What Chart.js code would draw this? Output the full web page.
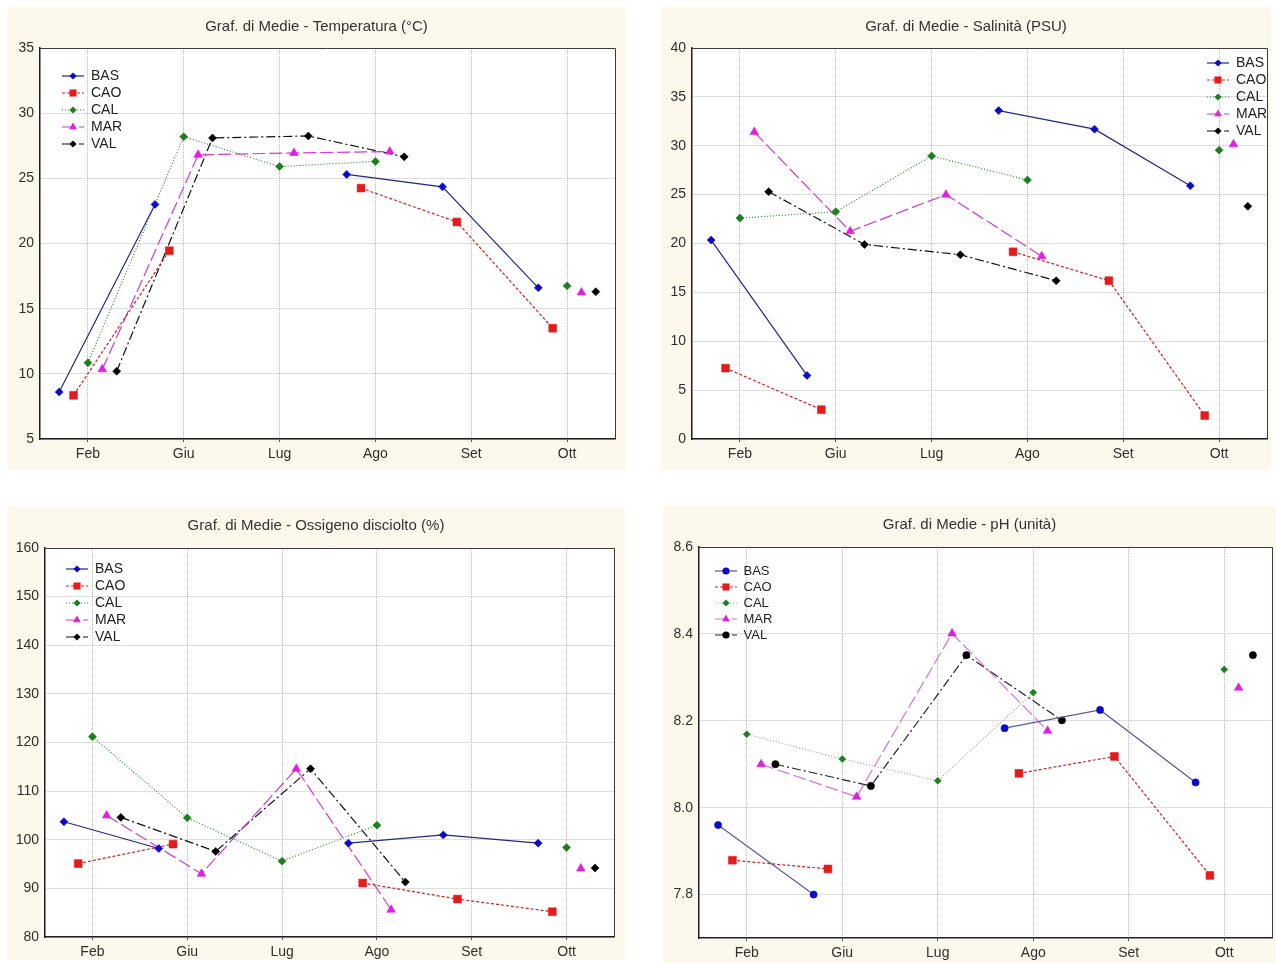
<!DOCTYPE html>
<html>
<head>
<meta charset="utf-8">
<title>Graf. di Medie</title>
<script src="https://cdn.jsdelivr.net/npm/chart.js@4/dist/chart.umd.min.js"></script>
<style>
  html, body { margin: 0; padding: 0; background: #ffffff; }
  body { width: 1276px; height: 963px; position: relative; overflow: hidden; }
  .panel { position: absolute; background: #fdf8ec; }
  .panel canvas { display: block; }
</style>
</head>
<body>
<div class="panel" style="left:7px;top:7px;width:619px;height:463px"><canvas id="c1" width="619" height="463"></canvas></div>
<div class="panel" style="left:661px;top:7px;width:610px;height:463px"><canvas id="c2" width="610" height="463"></canvas></div>
<div class="panel" style="left:7px;top:507px;width:618px;height:453px"><canvas id="c3" width="618" height="453"></canvas></div>
<div class="panel" style="left:663px;top:506px;width:613px;height:457px"><canvas id="c4" width="613" height="457"></canvas></div>

<script>
// ---- categories and stations ----
const months = ['Feb', 'Giu', 'Lug', 'Ago', 'Set', 'Ott'];
const stations = ['BAS', 'CAO', 'CAL', 'MAR', 'VAL'];

// ---- Temperatura (°C) ----
const tempBAS = [8.6, 23.0, null, 25.3, 24.35, 16.6];
const tempCAO = [8.35, 19.45, null, 24.25, 21.65, 13.5];
const tempCAL = [10.85, 28.2, 25.9, 26.3, null, 16.75];
const tempMAR = [10.35, 26.8, 26.95, 27.05, null, 16.25];
const tempVAL = [10.2, 28.1, 28.25, 26.65, null, 16.3];
const tempTicks = [5, 10, 15, 20, 25, 30, 35];

// ---- Salinità (PSU) ----
const salBAS = [20.35, 6.5, null, 33.6, 31.7, 25.9];
const salCAO = [7.25, 3.0, null, 19.15, 16.2, 2.4];
const salCAL = [22.6, 23.25, 28.95, 26.5, null, 29.55];
const salMAR = [31.4, 21.25, 25.0, 18.7, null, 30.15];
const salVAL = [25.3, 19.9, 18.85, 16.2, null, 23.8];
const salTicks = [0, 5, 10, 15, 20, 25, 30, 35, 40];

// ---- Ossigeno disciolto (%) ----
const oxBAS = [103.7, 98.2, null, 99.3, 101.0, 99.3];
const oxCAO = [95.1, 99.1, null, 91.1, 87.8, 85.2];
const oxCAL = [121.2, 104.5, 95.6, 103.0, null, 98.4];
const oxMAR = [105.0, 93.0, 114.6, 85.6, null, 94.1];
const oxVAL = [104.6, 97.6, 114.6, 91.3, null, 94.2];
const oxTicks = [80, 90, 100, 110, 120, 130, 140, 150, 160];

// ---- pH (unità) ----
const phBAS = [7.96, 7.80, null, 8.183, 8.225, 8.058];
const phCAO = [7.879, 7.859, null, 8.079, 8.118, 7.844];
const phCAL = [8.169, 8.112, 8.062, 8.265, null, 8.318];
const phMAR = [8.10, 8.025, 8.401, 8.177, null, 8.276];
const phVAL = [8.10, 8.05, 8.351, 8.201, null, 8.351];
const phTicks = [7.8, 8.0, 8.2, 8.4, 8.6];

// ---- look of each station (dodge offset inside a month, line, marker) ----
const FONT = '"Liberation Sans", Arial, Helvetica, sans-serif';
const TEXT = '#2e2e2e';
const GRID = '#bdbdbd';
const baseStyle = {
  BAS: { off: -0.3,  line: '#262680', marker: '#0a0ac8', dash: [],           point: 'rectRot',  r: 4 },
  CAO: { off: -0.15, line: '#cc2222', marker: '#e41b1b', dash: [3, 2],       point: 'rect',     r: 5.5 },
  CAL: { off: 0,     line: '#2a8a2a', marker: '#1b7f1b', dash: [1, 2],       point: 'rectRot',  r: 4 },
  MAR: { off: 0.15,  line: '#d23ad2', marker: '#e020e0', dash: [13, 4],      point: 'triangle', r: 5 },
  VAL: { off: 0.3,   line: '#111111', marker: '#000000', dash: [9, 3, 2, 3], point: 'rectRot',  r: 4 }
};
const phStyle = {
  BAS: { line: '#5a5a90', point: 'circle', r: 3.6 },
  CAL: { line: '#a0a0a0', r: 3.5 },
  MAR: { line: '#d673d6' },
  VAL: { line: '#222222', point: 'circle', r: 3.6 }
};

function styleFor(name, variant) {
  const s = Object.assign({}, baseStyle[name]);
  if (variant === 'ph' && phStyle[name]) Object.assign(s, phStyle[name]);
  return s;
}

// small marker painter used for the legend swatches
function paintMarker(g, kind, x, y, r) {
  g.beginPath();
  if (kind === 'circle') {
    g.arc(x, y, r, 0, Math.PI * 2);
  } else if (kind === 'rect') {
    const h = r * Math.SQRT1_2;
    g.rect(x - h, y - h, 2 * h, 2 * h);
  } else if (kind === 'triangle') {
    g.moveTo(x, y - r);
    g.lineTo(x + r * 0.866, y + r / 2);
    g.lineTo(x - r * 0.866, y + r / 2);
    g.closePath();
  } else {
    g.moveTo(x, y - r);
    g.lineTo(x + r, y);
    g.lineTo(x, y + r);
    g.lineTo(x - r, y);
    g.closePath();
  }
  g.fill();
}

// legend swatch: short line in the station's dash with its marker in the middle
function legendSwatch(s, w) {
  const c = document.createElement('canvas');
  c.width = w; c.height = 12;
  const g = c.getContext('2d');
  g.strokeStyle = s.line;
  g.lineWidth = 1.2;
  g.setLineDash(s.dash);
  g.beginPath(); g.moveTo(0, 6); g.lineTo(w, 6); g.stroke();
  g.setLineDash([]);
  g.fillStyle = s.marker;
  paintMarker(g, s.point, w / 2, 6, s.point === 'rect' ? 5 : (s.point === 'triangle' ? 4.5 : 3.6));
  return c;
}

function points(values, off) {
  return values.map((v, i) => ({ x: i + off, y: v }));
}

// white plot area and the thin top/right frame
const plotFrame = {
  id: 'plotFrame',
  beforeDraw(chart) {
    const { ctx, chartArea: a } = chart;
    ctx.save();
    ctx.fillStyle = '#ffffff';
    ctx.fillRect(a.left, a.top, a.width, a.height);
    ctx.restore();
  },
  beforeDatasetsDraw(chart) {
    const { ctx, chartArea: a } = chart;
    ctx.save();
    ctx.strokeStyle = '#3a3a3a';
    ctx.lineWidth = 1;
    ctx.beginPath();
    ctx.moveTo(a.left, a.top + 0.5);
    ctx.lineTo(a.right + 0.5, a.top + 0.5);
    ctx.lineTo(a.right + 0.5, a.bottom);
    ctx.stroke();
    ctx.restore();
  }
};

// puts the legend box at a chosen corner inside the plot area
const legendSpot = {
  id: 'legendSpot',
  afterLayout(chart, args, opts) {
    const lg = chart.legend, a = chart.chartArea;
    if (!lg) return;
    lg.left = a.left + opts.dx;
    lg.top = a.top + opts.dy;
    lg.right = a.right;
    lg.bottom = a.bottom;
  }
};

function makeChart(p) {
  const styles = stations.map(n => styleFor(n, p.variant));
  const swatches = styles.map(s => legendSwatch(s, 22));
  const datasets = stations.map((name, k) => {
    const s = styles[k];
    return {
      label: name,
      data: points(p.series[k], s.off),
      borderColor: s.line,
      borderWidth: 1.2,
      borderDash: s.dash,
      pointStyle: s.point,
      pointRadius: s.r,
      pointHoverRadius: s.r,
      pointBackgroundColor: s.marker,
      pointBorderColor: s.marker,
      pointBorderWidth: 0.6,
      spanGaps: false,
      fill: false,
      tension: 0
    };
  });

  return new Chart(document.getElementById(p.canvas), {
    type: 'line',
    data: { datasets },
    plugins: [plotFrame, legendSpot],
    options: {
      responsive: false,
      animation: false,
      events: [],
      layout: { padding: 0, autoPadding: false },
      scales: {
        x: {
          type: 'linear',
          min: -0.5,
          max: 5.5,
          afterBuildTicks: s => { s.ticks = months.map((m, i) => ({ value: i })); },
          afterFit: s => { s.height = p.bottom; },
          ticks: {
            callback: v => months[v] ?? '',
            autoSkip: false, maxRotation: 0,
            padding: 4,
            color: TEXT,
            font: { family: FONT, size: 14 }
          },
          grid: {
            color: GRID, lineWidth: 1,
            drawTicks: true, tickLength: 3,
            tickColor: '#555555', tickWidth: 1, tickBorderDash: []
          },
          border: { display: true, color: '#1e1e1e', width: 1.5, dash: [1, 1] }
        },
        y: {
          type: 'linear',
          min: p.min,
          max: p.max,
          afterBuildTicks: s => { s.ticks = p.ticks.map(v => ({ value: v })); },
          afterFit: s => { s.width = p.left; },
          ticks: {
            callback: v => v.toFixed(p.decimals),
            padding: 6,
            color: TEXT,
            font: { family: FONT, size: 14 }
          },
          grid: { color: GRID, lineWidth: 1, drawTicks: false },
          border: { display: true, color: '#1e1e1e', width: 1.5, dash: [1, 1] }
        },
        yPad: {
          type: 'linear',
          position: 'right',
          display: true,
          afterFit: s => { s.width = p.right; },
          ticks: { display: false },
          grid: { drawOnChartArea: false, drawTicks: false },
          border: { display: false }
        }
      },
      plugins: {
        title: {
          display: true,
          text: p.title,
          color: '#333333',
          font: { family: FONT, size: 15, weight: 'normal' },
          padding: p.titlePad
        },
        legend: {
          display: true,
          position: 'chartArea',
          align: 'start',
          labels: {
            usePointStyle: true,
            pointStyleWidth: 22,
            padding: 3,
            color: '#222222',
            font: { family: FONT, size: p.legend.size },
            generateLabels: chart => chart.data.datasets.map((ds, i) => ({
              text: ds.label,
              pointStyle: swatches[i],
              datasetIndex: i,
              hidden: false,
              fontColor: '#222222',
              fillStyle: 'transparent',
              strokeStyle: 'transparent',
              lineWidth: 0
            }))
          }
        },
        legendSpot: { dx: p.legend.dx, dy: p.legend.dy },
        tooltip: { enabled: false }
      }
    }
  });
}

makeChart({
  canvas: 'c1', title: 'Graf. di Medie - Temperatura (°C)',
  series: [tempBAS, tempCAO, tempCAL, tempMAR, tempVAL],
  min: 5, max: 35, ticks: tempTicks, decimals: 0, variant: 'std',
  left: 33, right: 11, bottom: 31,
  titlePad: { top: 11, bottom: 12 },
  legend: { dx: 19, dy: 18, size: 14 }
});

makeChart({
  canvas: 'c2', title: 'Graf. di Medie - Salinità (PSU)',
  series: [salBAS, salCAO, salCAL, salMAR, salVAL],
  min: 0, max: 40, ticks: salTicks, decimals: 0, variant: 'std',
  left: 31, right: 4, bottom: 31,
  titlePad: { top: 11, bottom: 12 },
  legend: { dx: 512, dy: 5, size: 14 }
});

makeChart({
  canvas: 'c3', title: 'Graf. di Medie - Ossigeno disciolto (%)',
  series: [oxBAS, oxCAO, oxCAL, oxMAR, oxVAL],
  min: 80, max: 160, ticks: oxTicks, decimals: 0, variant: 'std',
  left: 38, right: 11, bottom: 23,
  titlePad: { top: 9.5, bottom: 13.5 },
  legend: { dx: 18, dy: 11, size: 14 }
});

makeChart({
  canvas: 'c4', title: 'Graf. di Medie - pH (unità)',
  series: [phBAS, phCAO, phCAL, phMAR, phVAL],
  min: 7.7, max: 8.6, ticks: phTicks, decimals: 1, variant: 'ph',
  left: 36, right: 4, bottom: 25,
  titlePad: { top: 9.5, bottom: 13.5 },
  legend: { dx: 13, dy: 14.5, size: 13 }
});
</script>
</body>
</html>
